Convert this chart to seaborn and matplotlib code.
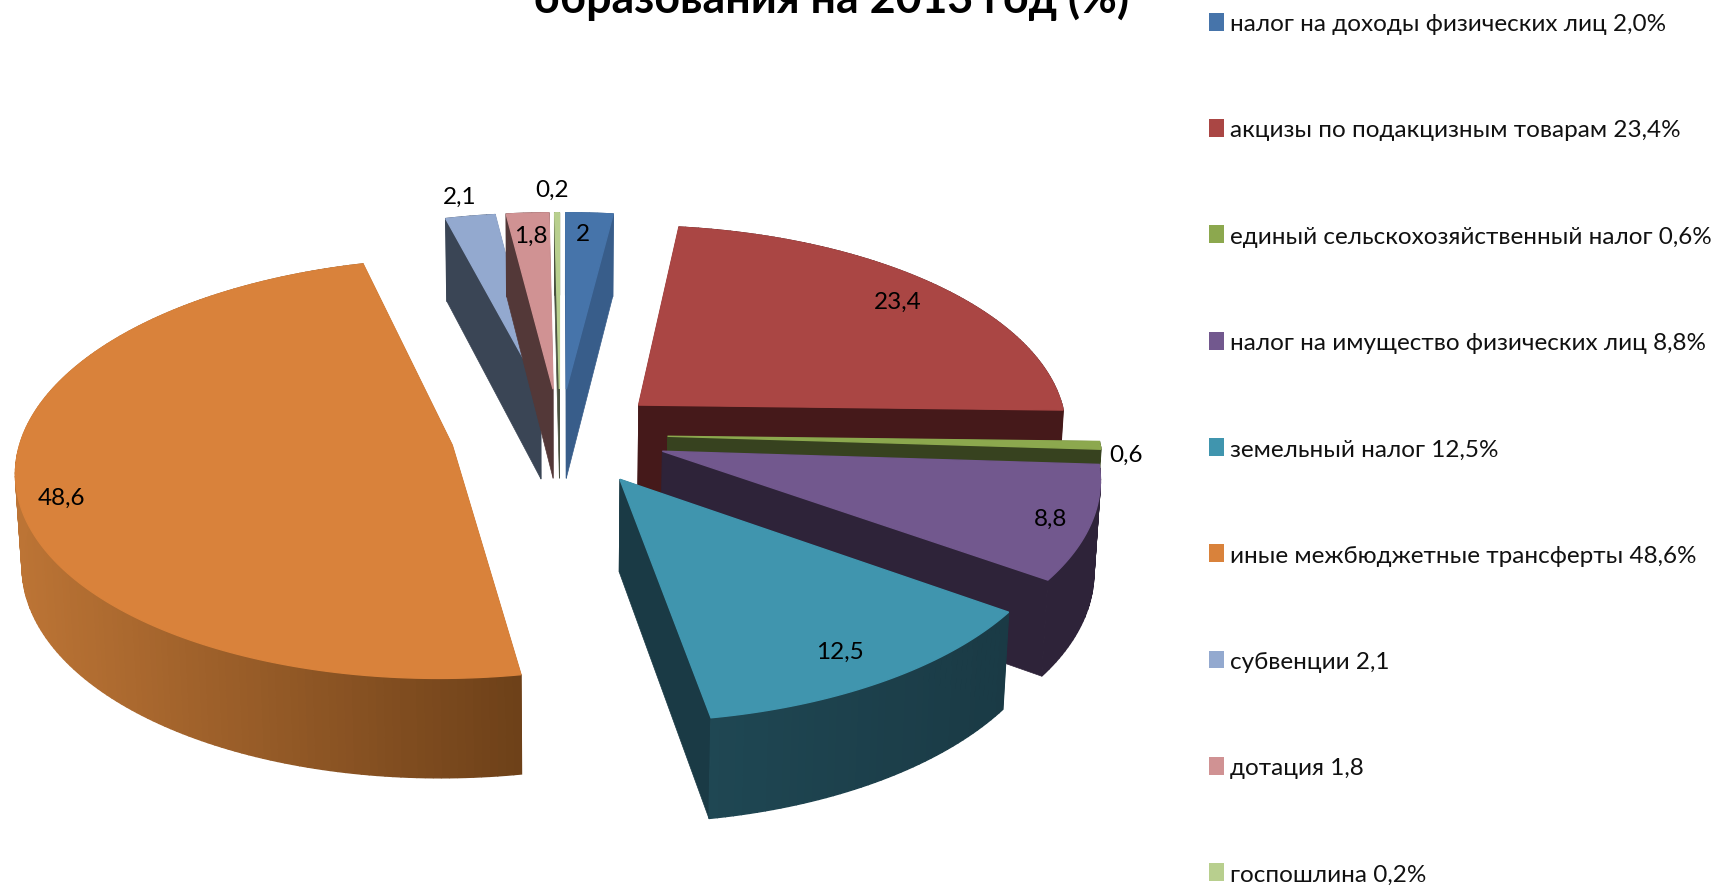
import numpy as np
import matplotlib
matplotlib.use("Agg")
import matplotlib.pyplot as plt
from matplotlib.patches import Patch
import seaborn as sns

# ============================================================================
# DATA
# ============================================================================
values = [2.0, 23.4, 0.6, 8.8, 12.5, 48.6, 2.1, 1.8, 0.2]
value_labels = ["2", "23,4", "0,6", "8,8", "12,5", "48,6", "2,1", "1,8", "0,2"]
legend_labels = [
    "налог на доходы физических лиц 2,0%",
    "акцизы по подакцизным товарам 23,4%",
    "единый сельскохозяйственный налог 0,6%",
    "налог на имущество физических лиц 8,8%",
    "земельный налог 12,5%",
    "иные межбюджетные трансферты 48,6%",
    "субвенции 2,1",
    "дотация 1,8",
    "госпошлина 0,2%",
]
title_text = "образования на 2013 год (%)"

# ============================================================================
# STYLE
# ============================================================================
top_colors = ["#4674AA", "#AA4644", "#8CA84E", "#72588E", "#4095AE",
              "#D9823B", "#93A9CF", "#D09293", "#B8CF8E"]
wall_left = ["#385D8A", "#45191A", "#37421F", "#2E2339", "#1F4753",
             "#BC7435", "#3A4555", "#533838", "#4A5240"]
wall_right = ["#385D8A", "#45191A", "#37421F", "#2E2339", "#1A3A45",
              "#6E4119", "#3A4555", "#533838", "#4A5240"]
# how far each slice is pulled out, sideways and in depth
explode_x = [0.24, 0.245, 0.25, 0.25, 0.255, 0.255, 0.24, 0.24, 0.24]
explode_y = [0.225, 0.22, 0.25, 0.25, 0.255, 0.255, 0.225, 0.225, 0.225]
draw_order = [6, 7, 8, 0, 1, 2, 3, 4, 5]

# label place: share of the slice's angle, radius from the slice's apex
label_place = [(0.42, 0.87), (0.51, 0.86), (1.5, 1.055), (0.52, 0.91),
               (0.52, 0.86), (0.48, 0.905), (0.45, 1.13), (0.49, 0.865), (-0.3, 1.15)]

# projection of the tilted pie
CX, CY = 560, 435
A, B, K = 430, 205, 0.11
DEPTH, KZ = 92, 0.012


def project(x, y, z=0.0):
    w = 1 + K * y + KZ * z
    return CX + A * x / w, CY - B * y / w + DEPTH * z / w


sns.set_theme(style="white")
plt.rcParams["font.family"] = ["Lato", "Open Sans", "DejaVu Sans"]

fig = plt.figure(figsize=(17.22, 8.87), dpi=100)
ax = fig.add_axes([0, 0, 1, 1])
ax.set_xlim(0, 1722)
ax.set_ylim(887, 0)
ax.axis("off")

# ============================================================================
# SLICES
# ============================================================================
edges = np.concatenate([[0], np.cumsum(values)]) / np.sum(values) * 2 * np.pi

layer = 2
for i in draw_order:
    t0, t1 = edges[i], edges[i + 1]
    mid = (t0 + t1) / 2
    ox, oy = explode_x[i] * np.sin(mid), explode_y[i] * np.cos(mid)
    theta = np.linspace(t0, t1, max(int((t1 - t0) * 60), 4))
    rx, ry = ox + np.sin(theta), oy + np.cos(theta)

    top = [project(ox, oy)] + [project(a, b) for a, b in zip(rx, ry)]
    low = [project(ox, oy, 1)] + [project(a, b, 1) for a, b in zip(rx, ry)]

    # radial walls
    for end in (1, len(top) - 1):
        quad = [top[0], top[end], low[end], low[0]]
        ax.fill(*zip(*quad), color=wall_right[i], lw=0.5, zorder=layer)

    # outer wall, shaded along the arc
    shades = sns.blend_palette([wall_left[i], wall_right[i]], n_colors=len(theta))
    xs = np.array([p[0] for p in top[1:]])
    order = (xs - xs.min()) / max(xs.max() - xs.min(), 1)
    for j in range(len(theta) - 1):
        quad = [top[j + 1], top[j + 2], low[j + 2], low[j + 1]]
        col = shades[int(order[j] * (len(theta) - 1))]
        ax.fill(*zip(*quad), color=col, lw=1, zorder=layer)

    ax.fill(*zip(*top), color=top_colors[i], lw=1, zorder=layer + 1)
    layer += 2

    # value label
    share, radius = label_place[i]
    t = t0 + share * (t1 - t0)
    lx, ly = project(ox + radius * np.sin(t), oy + radius * np.cos(t))
    ax.text(lx, ly, value_labels[i], ha="center", va="center", fontsize=17.5,
            color="black", zorder=50)

# ============================================================================
# TITLE AND LEGEND
# ============================================================================
ax.text(832, 13, title_text, ha="center", va="baseline", fontsize=32.2,
        fontweight="bold", color="black")

handles = [Patch(facecolor=c, edgecolor="none") for c in top_colors]
ax.legend(
    handles, legend_labels, loc="upper left", bbox_to_anchor=(1199 / 1722, 1 - 4 / 887),
    frameon=False, fontsize=17.5, labelcolor="#111111", handlelength=0.62,
    handleheight=0.75, handletextpad=0.25, labelspacing=3.495, borderpad=0.4,
    borderaxespad=0,
)

plt.savefig("out.png", dpi=100)
